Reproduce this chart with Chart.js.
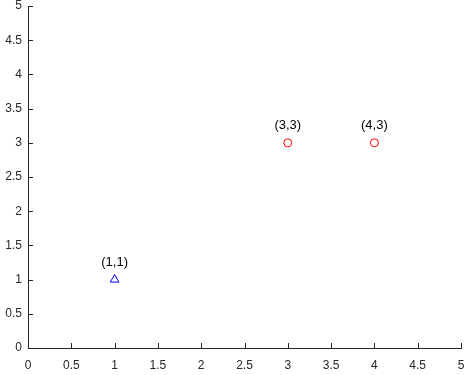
<!DOCTYPE html>
<html><head><meta charset="utf-8">
<script src="https://cdn.jsdelivr.net/npm/chart.js@4"></script>
<style>html,body{margin:0;padding:0;background:#fff}#wrap{width:470px;height:375px}</style>
</head><body><div id="wrap"><canvas id="c"></canvas></div>
<script>
const triangleX = [1];
const triangleY = [1];
const circleX = [3, 4];
const circleY = [3, 3];
const tickStep = 0.5;
const axisMin = 0, axisMax = 5;

const toPts = (xs, ys) => xs.map((x, i) => ({x: x, y: ys[i]}));
const fmt = v => String(parseFloat(Number(v).toFixed(2)));

const inwardTicks = {
  id: 'inwardTicks',
  afterDraw(chart) {
    const ctx = chart.ctx, a = chart.chartArea;
    const xs = chart.scales.x, ys = chart.scales.y;
    ctx.save();
    ctx.strokeStyle = '#262626';
    ctx.lineWidth = 1;
    ctx.beginPath();
    for (let i = 0; i < xs.ticks.length; i++) {
      const px = Math.round(xs.getPixelForValue(xs.ticks[i].value)) + 0.5;
      ctx.moveTo(px, a.bottom); ctx.lineTo(px, a.bottom - 5);
    }
    for (let i = 0; i < ys.ticks.length; i++) {
      const py = Math.round(ys.getPixelForValue(ys.ticks[i].value)) + 0.5;
      ctx.moveTo(a.left, py); ctx.lineTo(a.left + 5, py);
    }
    ctx.stroke();
    ctx.restore();
  }
};

const pointLabels = {
  id: 'pointLabels',
  afterDatasetsDraw(chart) {
    const ctx = chart.ctx;
    ctx.save();
    ctx.font = '13px "Liberation Sans", Arial, sans-serif';
    ctx.fillStyle = '#000';
    ctx.textAlign = 'center';
    ctx.textBaseline = 'middle';
    chart.data.datasets.forEach((ds, di) => {
      chart.getDatasetMeta(di).data.forEach((el, i) => {
        const p = ds.data[i];
        ctx.fillText('(' + p.x + ',' + p.y + ')', el.x, el.y - 17);
      });
    });
    ctx.restore();
  }
};

const fixY = s => { s.width = 28; s.paddingTop = 0; s.paddingBottom = 0; };
const fixX = s => { s.height = 27; s.paddingLeft = 0; s.paddingRight = 0; };
const tickFont = {size: 12, family: '"Liberation Sans", Arial, sans-serif'};

new Chart(document.getElementById('c'), {
  type: 'scatter',
  data: {
    datasets: [
      {data: toPts(triangleX, triangleY), pointStyle: 'triangle', pointRadius: 5,
       borderColor: '#0000ff', backgroundColor: 'rgba(0,0,0,0)', borderWidth: 1},
      {data: toPts(circleX, circleY), pointStyle: 'circle', pointRadius: 4,
       borderColor: '#ff0000', backgroundColor: 'rgba(0,0,0,0)', borderWidth: 1}
    ]
  },
  options: {
    responsive: true, maintainAspectRatio: false, animation: false,
    layout: {padding: {top: 6, right: 9, left: 0, bottom: 0}},
    plugins: {legend: {display: false}, tooltip: {enabled: false}},
    scales: {
      x: {type: 'linear', min: axisMin, max: axisMax,
          ticks: {stepSize: tickStep, color: '#262626', padding: 10, maxRotation: 0,
                  autoSkip: false, font: tickFont, callback: fmt},
          grid: {display: false, drawTicks: false, tickLength: 0},
          border: {display: true, color: '#262626'},
          afterFit: fixX},
      y: {type: 'linear', min: axisMin, max: axisMax,
          ticks: {stepSize: tickStep, color: '#262626', padding: 6,
                  autoSkip: false, font: tickFont, callback: fmt},
          grid: {display: false, drawTicks: false, tickLength: 0},
          border: {display: true, color: '#262626'},
          afterFit: fixY}
    }
  },
  plugins: [inwardTicks, pointLabels]
});
</script></body></html>
